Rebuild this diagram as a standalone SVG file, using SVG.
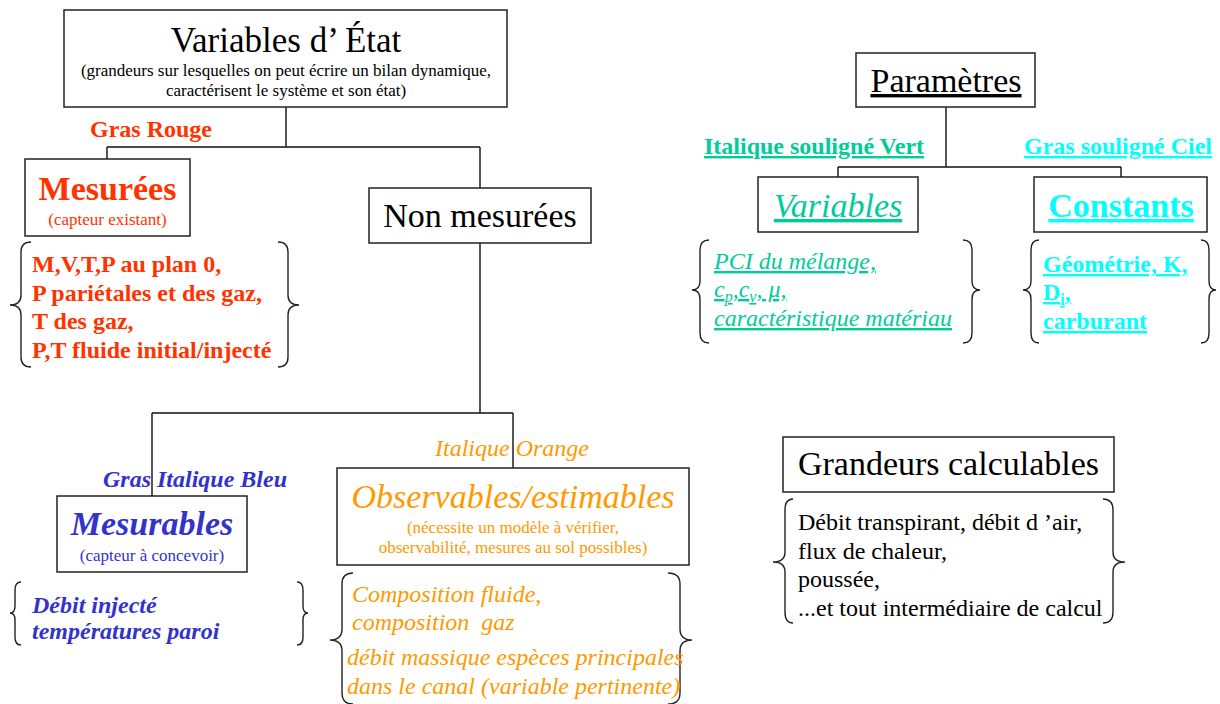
<svg xmlns="http://www.w3.org/2000/svg" width="1220" height="704" viewBox="0 0 1220 704">
<style>
text{font-family:"Liberation Serif","Times New Roman",serif}
.box{fill:#fff;stroke:#222;stroke-width:1.5}
.ln{fill:none;stroke:#111;stroke-width:1.4}
.br{fill:none;stroke:#222;stroke-width:1.4}
.t34{font-size:34px;text-anchor:middle}
.t17{font-size:17px;text-anchor:middle}
.t24{font-size:24px}
.red{fill:#FF3300}
.blue{fill:#3333CC}
.orange{fill:#FF9900}
.green{fill:#00CC99}
.cyan{fill:#00FFFF}
.b{font-weight:bold}
.i{font-style:italic}
.u{text-decoration:underline}
</style>
<rect width="1220" height="704" fill="#fff"/>

<g id="connectors">
<path class="ln" d="M286,107 V147 M107,147 H480 M107,147 V159 M480,147 V188"/>
<path class="ln" d="M480,243 V413 M152,413 H513 M152,413 V496 M513,413 V468"/>
<path class="ln" d="M946,107 V167 M838,167 H1121 M838,167 V177 M1121,167 V177"/>
</g>

<g id="variables-etat">
<rect class="box" x="64" y="10" width="443" height="97"/>
<text class="t34" x="286" y="52" style="font-size:35px">Variables d’ État</text>
<text class="t17" x="286" y="76">(grandeurs sur lesquelles on peut écrire un bilan dynamique,</text>
<text class="t17" x="286" y="96">caractérisent le système et son état)</text>
</g>

<g id="label-gras-rouge">
<text class="t24 b red" x="90" y="137">Gras Rouge</text>
</g>

<g id="mesurees">
<rect class="box" x="25" y="159" width="165" height="77"/>
<text class="t34 b red" x="107.5" y="200">Mesurées</text>
<text class="t17 red" x="107.5" y="225">(capteur existant)</text>
</g>

<g id="mesurees-list">
<path class="br" d="M31,242 Q21,242 21,252 L21,295 Q21,305 10,305 Q21,305 21,315 L21,357 Q21,367 31,367"/>
<path class="br" d="M278,242 Q288,242 288,252 L288,295 Q288,305 299,305 Q288,305 288,315 L288,357 Q288,367 278,367"/>
<text class="t24 b red" x="32" y="272">M,V,T,P au plan 0,</text>
<text class="t24 b red" x="32" y="301">P pariétales et des gaz,</text>
<text class="t24 b red" x="32" y="329">T des gaz,</text>
<text class="t24 b red" x="32" y="358">P,T fluide initial/injecté</text>
</g>

<g id="non-mesurees">
<rect class="box" x="369" y="188" width="222" height="55"/>
<text class="t34" x="480" y="227">Non mesurées</text>
</g>

<g id="label-gras-italique-bleu">
<text class="t24 b i blue" x="103" y="487">Gras Italique Bleu</text>
</g>

<g id="mesurables">
<rect class="box" x="57" y="496" width="190" height="76"/>
<text class="t34 b i blue" x="152" y="535">Mesurables</text>
<text class="t17 blue" x="152" y="561">(capteur à concevoir)</text>
</g>

<g id="mesurables-list">
<path class="br" d="M21,582 Q15,582 15,590 L15,606 Q15,613 10,613 Q15,613 15,620 L15,637 Q15,645 21,645"/>
<path class="br" d="M297,582 Q303,582 303,590 L303,606 Q303,613 308,613 Q303,613 303,620 L303,637 Q303,645 297,645"/>
<text class="t24 b i blue" x="32" y="613">Débit injecté</text>
<text class="t24 b i blue" x="32" y="639">températures paroi</text>
</g>

<g id="label-italique-orange">
<text class="t24 i orange" x="435" y="456">Italique Orange</text>
</g>

<g id="observables">
<rect class="box" x="337" y="468" width="352" height="97"/>
<text class="t34 i orange" x="513" y="508">Observables/estimables</text>
<text class="t17 orange" x="513" y="533">(nécessite un modèle à vérifier,</text>
<text class="t17 orange" x="513" y="553">observabilité, mesures au sol possibles)</text>
</g>

<g id="observables-list">
<path class="br" d="M353,573 Q342,573 342,584 L342,629 Q342,640 330,640 Q342,640 342,651 L342,693 Q342,704 353,704"/>
<path class="br" d="M668,573 Q680,573 680,584 L680,629 Q680,640 692,640 Q680,640 680,651 L680,693 Q680,704 668,704"/>
<text class="t24 i orange" x="352" y="602">Composition fluide,</text>
<text class="t24 i orange" x="352" y="630" style="white-space:pre">composition  gaz</text>
<text class="t24 i orange" x="347" y="665">débit massique espèces principales</text>
<text class="t24 i orange" x="347" y="694">dans le canal (variable pertinente)</text>
</g>

<g id="parametres">
<rect class="box" x="856" y="53" width="179" height="54"/>
<text class="t34 u" x="946" y="92">Paramètres</text>
</g>

<g id="label-italique-souligne-vert">
<text class="t24 b u green" x="704" y="154">Italique souligné Vert</text>
</g>

<g id="label-gras-souligne-ciel">
<text class="t24 b u cyan" x="1024" y="154">Gras souligné Ciel</text>
</g>

<g id="variables">
<rect class="box" x="758" y="177" width="160" height="55"/>
<text class="t34 i u green" x="838" y="217">Variables</text>
</g>

<g id="variables-list">
<path class="br" d="M709,240 Q700,240 700,250 L700,281 Q700,290 692,290 Q700,290 700,299 L700,333 Q700,343 709,343"/>
<path class="br" d="M963,240 Q972,240 972,250 L972,281 Q972,290 980,290 Q972,290 972,299 L972,333 Q972,343 963,343"/>
<text class="t24 i u green" x="714" y="269">PCI du mélange,</text>
<text class="t24 i u green" x="714" y="297">c<tspan dy="5" font-size="16">p</tspan><tspan dy="-5">,c</tspan><tspan dy="5" font-size="16">v</tspan><tspan dy="-5">, μ,</tspan></text>
<text class="t24 i u green" x="714" y="326">caractéristique matériau</text>
</g>

<g id="constants">
<rect class="box" x="1034" y="177" width="173" height="55"/>
<text class="t34 b u cyan" x="1121" y="217">Constants</text>
</g>

<g id="constants-list">
<path class="br" d="M1039,240 Q1031,240 1031,250 L1031,281 Q1031,290 1023,290 Q1031,290 1031,299 L1031,333 Q1031,343 1039,343"/>
<path class="br" d="M1201,240 Q1209,240 1209,250 L1209,281 Q1209,290 1216,290 Q1209,290 1209,299 L1209,333 Q1209,343 1201,343"/>
<text class="t24 b u cyan" x="1043" y="272">Géométrie, K,</text>
<text class="t24 b u cyan" x="1043" y="300">D<tspan dy="5" font-size="16">i</tspan><tspan dy="-5">,</tspan></text>
<text class="t24 b u cyan" x="1043" y="329">carburant</text>
</g>

<g id="grandeurs-calculables">
<rect class="box" x="783" y="437" width="331" height="55"/>
<text class="t34" x="948.5" y="475">Grandeurs calculables</text>
</g>

<g id="grandeurs-list">
<path class="br" d="M793,499 Q785,499 785,510 L785,552 Q785,562 773,562 Q785,562 785,572 L785,612 Q785,623 793,623"/>
<path class="br" d="M1103,499 Q1113,499 1113,510 L1113,552 Q1113,562 1125,562 Q1113,562 1113,572 L1113,612 Q1113,623 1103,623"/>
<text class="t24" x="798" y="530">Débit transpirant, débit d ’air,</text>
<text class="t24" x="798" y="559">flux de chaleur,</text>
<text class="t24" x="798" y="587">poussée,</text>
<text class="t24" x="798" y="616">...et tout intermédiaire de calcul</text>
</g>
</svg>
